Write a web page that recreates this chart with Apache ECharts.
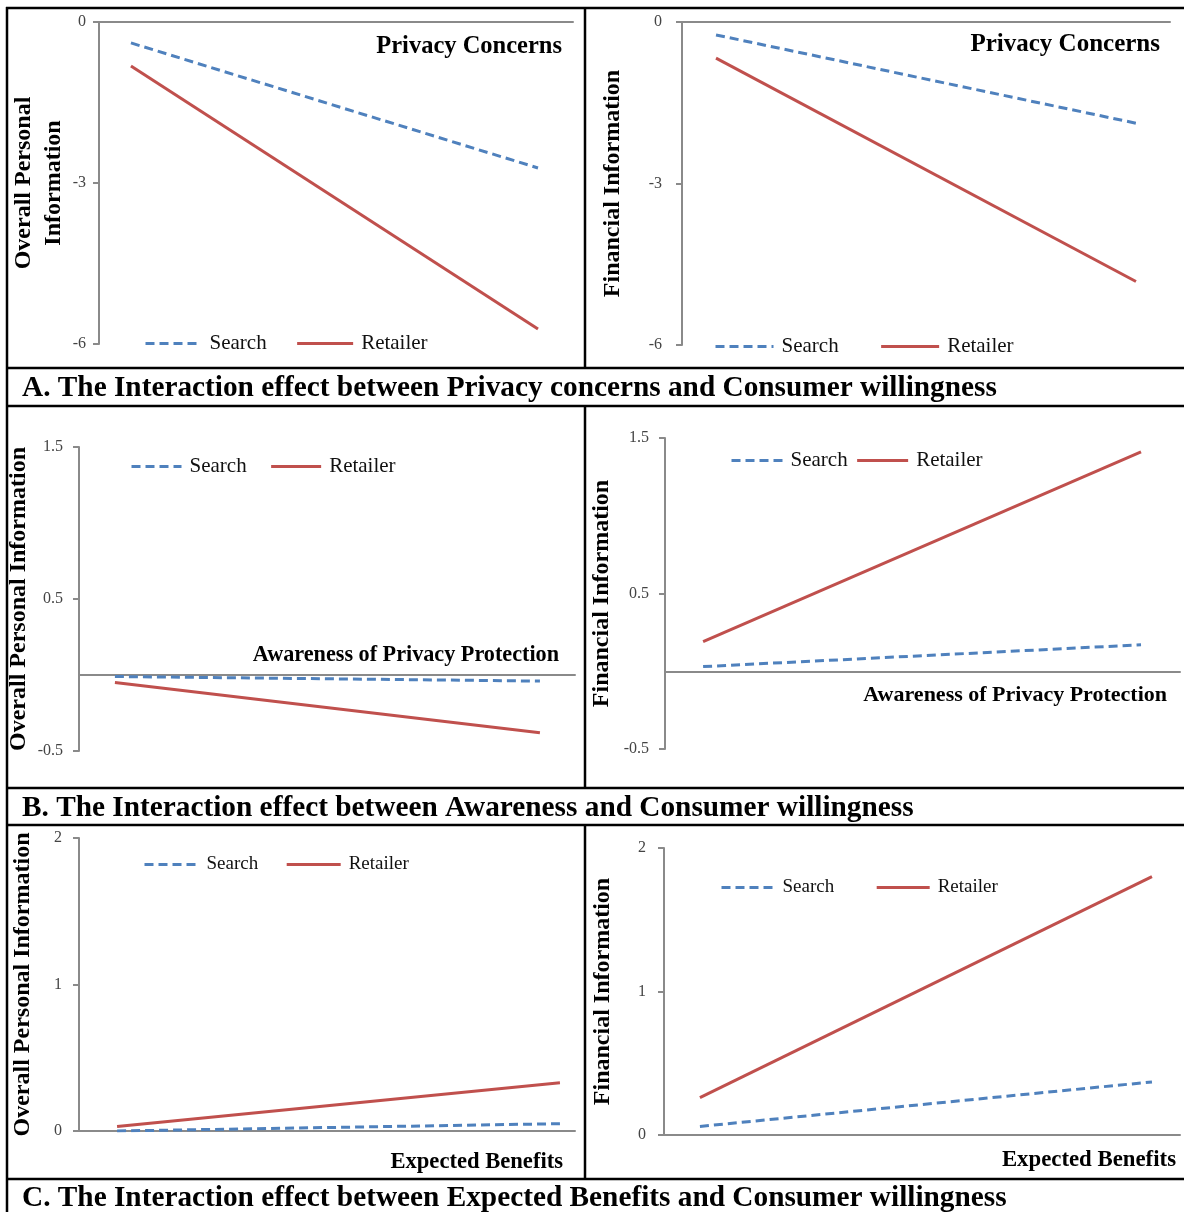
<!DOCTYPE html>
<html><head><meta charset="utf-8">
<script src="https://cdn.jsdelivr.net/npm/echarts@6/dist/echarts.min.js"></script>
<style>html,body{margin:0;padding:0;background:#fff}#c{width:1184px;height:1212px}</style>
</head><body><div id="c"></div>
<script>
// ---- data ----
const seriesNames = ['Search', 'Retailer'];
const moderatorLevels = [-1, 1]; // low / high level of the moderator
const searchA1 = [-0.39, -2.72];
const retailerA1 = [-0.82, -5.72];
const searchA2 = [-0.24, -1.88];
const retailerA2 = [-0.67, -4.82];
const searchB1 = [-0.01, -0.04];
const retailerB1 = [-0.05, -0.38];
const searchB2 = [0.03, 0.17];
const retailerB2 = [0.19, 1.41];
const searchC1 = [0.00, 0.05];
const retailerC1 = [0.03, 0.33];
const searchC2 = [0.06, 0.37];
const retailerC2 = [0.26, 1.80];
const yNames = ['Overall Personal\nInformation', 'Financial Information', 'Overall Personal Information', 'Financial Information', 'Overall Personal Information', 'Financial Information'];
const moderatorNames = ['Privacy Concerns', 'Privacy Concerns', 'Awareness of Privacy Protection', 'Awareness of Privacy Protection', 'Expected Benefits', 'Expected Benefits'];
const captions = [
  'A. The Interaction effect between Privacy concerns and Consumer willingness',
  'B. The Interaction effect between Awareness and Consumer willingness',
  'C. The Interaction effect between Expected Benefits and Consumer willingness'
];
const yRanges = [[-6, 0, 3], [-6, 0, 3], [-0.5, 1.5, 1], [-0.5, 1.5, 1], [0, 2, 1], [0, 2, 1]];

// ---- layout ----
const layout = [
  {grid: {left: 99, top: 22, width: 474, height: 322}, xMin: -1.157, xMax: 1.172, nameGap: 29, labelMargin: 13, legend: {left: 144, cy: 344, gap: 29, w: 56, font: 21}, note: {x: 562, y: 47, font: 24.5}},
  {grid: {left: 682, top: 22, width: 488, height: 323}, xMin: -1.162, xMax: 1.162, nameGap: 54, labelMargin: 20, legend: {left: 714, cy: 347, gap: 41, w: 58, font: 21}, note: {x: 1160, y: 45, font: 25}},
  {grid: {left: 79, top: 447, width: 496, height: 304}, xMin: -1.169, xMax: 1.165, nameGap: 44, labelMargin: 16, legend: {left: 130, cy: 467, gap: 23, w: 50, font: 21}, note: {x: 559, y: 655, font: 22.2}},
  {grid: {left: 665, top: 438, width: 515, height: 311}, xMin: -1.174, xMax: 1.178, nameGap: 48, labelMargin: 16, legend: {left: 730, cy: 461, gap: 8, w: 51, font: 21}, note: {x: 1167, y: 695, font: 22}},
  {grid: {left: 79, top: 838, width: 496, height: 293}, xMin: -1.172, xMax: 1.068, nameGap: 41, labelMargin: 17, legend: {left: 143, cy: 866, gap: 27, w: 54, font: 19}, note: {x: 563, y: 1162, font: 22.6}},
  {grid: {left: 664, top: 848, width: 516, height: 287}, xMin: -1.159, xMax: 1.124, nameGap: 46, labelMargin: 18, legend: {left: 720, cy: 889, gap: 41, w: 53, font: 19}, note: {x: 1176, y: 1160, font: 22.8}}
];
const values = [
  [searchA1, retailerA1], [searchA2, retailerA2],
  [searchB1, retailerB1], [searchB2, retailerB2],
  [searchC1, retailerC1], [searchC2, retailerC2]
];

const SERIF = '"Liberation Serif", "Times New Roman", serif';
const BLUE = '#4F81BD', RED = '#C0504D', AXIS = '#8a8a8a';

const grid = [], xAxis = [], yAxis = [], series = [], legend = [], graphic = [];
layout.forEach((p, i) => {
  grid.push(Object.assign({containLabel: false}, p.grid));
  xAxis.push({
    type: 'value', gridIndex: i, min: p.xMin, max: p.xMax,
    axisLine: {show: true, onZero: true, lineStyle: {color: AXIS, width: 2}},
    axisTick: {show: false}, axisLabel: {show: false}, splitLine: {show: false}
  });
  yAxis.push({
    type: 'value', gridIndex: i, min: yRanges[i][0], max: yRanges[i][1], interval: yRanges[i][2],
    name: yNames[i], nameLocation: 'middle', nameRotate: 90, nameGap: p.nameGap,
    nameTextStyle: {fontFamily: SERIF, fontWeight: 'bold', fontSize: 24, lineHeight: 30, color: '#000'},
    axisLine: {show: true, onZero: false, lineStyle: {color: AXIS, width: 2}},
    axisTick: {show: true, length: 6, lineStyle: {color: AXIS, width: 2}},
    axisLabel: {fontFamily: SERIF, fontSize: 16, color: '#444', margin: p.labelMargin},
    splitLine: {show: false}
  });
  values[i].forEach((vals, k) => {
    series.push({
      type: 'line', name: seriesNames[k], xAxisIndex: i, yAxisIndex: i,
      symbol: 'none', silent: true,
      data: vals.map((v, j) => [moderatorLevels[j], v]),
      lineStyle: {color: k === 0 ? BLUE : RED, width: 3, type: k === 0 ? [9, 5] : 'solid'},
      itemStyle: {color: k === 0 ? BLUE : RED}
    });
  });
  legend.push({
    left: p.legend.left, top: p.legend.cy - 11, orient: 'horizontal', padding: 0,
    data: seriesNames, itemWidth: p.legend.w, itemHeight: 14, itemGap: p.legend.gap,
    selectedMode: false,
    lineStyle: {width: 3},
    itemStyle: {color: 'rgba(0,0,0,0)', borderColor: 'rgba(0,0,0,0)', borderWidth: 0, opacity: 0},
    textStyle: {fontFamily: SERIF, fontSize: p.legend.font, color: '#111', padding: [0, 0, 0, 3]}
  });
  graphic.push({
    type: 'text', silent: true,
    style: {text: moderatorNames[i], x: p.note.x, y: p.note.y, textAlign: 'right', textVerticalAlign: 'middle',
      font: 'bold ' + p.note.font + 'px ' + SERIF, fill: '#000'}
  });
});

// table frame
const L = (x1, y1, x2, y2) => ({type: 'line', silent: true, shape: {x1, y1, x2, y2}, style: {stroke: '#000', lineWidth: 2.5}});
[8, 368, 406, 788, 825, 1179].forEach(y => graphic.push(L(6, y, 1184, y)));
graphic.push(L(7, 7, 7, 1212));
[[8, 368], [406, 788], [825, 1179]].forEach(([a, b]) => graphic.push(L(585, a, 585, b)));
[388, 808, 1198].forEach((y, i) => graphic.push({
  type: 'text', silent: true,
  style: {text: captions[i], x: 22, y: y, textAlign: 'left', textVerticalAlign: 'middle',
    font: 'bold 29.3px ' + SERIF, fill: '#000'}
}));

const chart = echarts.init(document.getElementById('c'), null, {renderer: 'canvas'});
chart.setOption({animation: false, backgroundColor: '#fff', grid, xAxis, yAxis, series, legend, graphic});
</script></body></html>
